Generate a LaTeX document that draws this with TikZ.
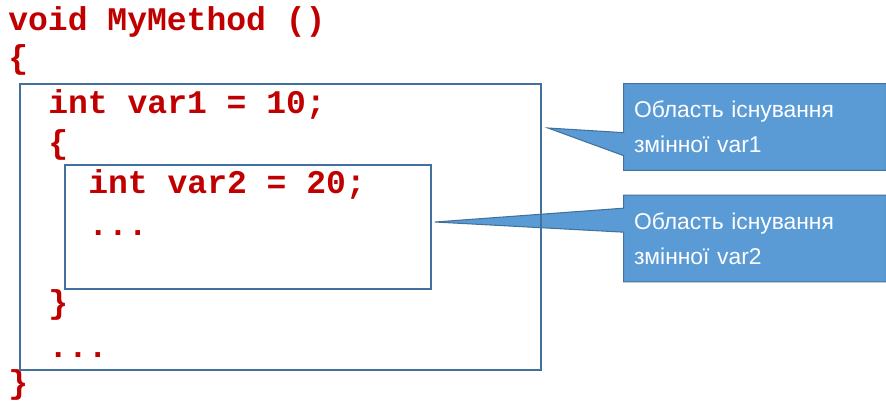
\documentclass[tikz,border=0pt]{standalone}
\usepackage{fontspec}
\setmainfont{Liberation Sans}
\setsansfont{Liberation Sans}
\setmonofont{Liberation Mono}
\usepackage{tikz}
\usetikzlibrary{calc,backgrounds}
\definecolor{codered}{HTML}{C00000}
\definecolor{frameblue}{HTML}{41719C}
\definecolor{callfill}{HTML}{5B9BD5}

\begin{document}
\begin{tikzpicture}[
          x=0.02cm, y=-0.02cm,
          code/.style={anchor=base west,inner sep=0pt,text=codered,
                       font=\fontsize{18.8}{20}\selectfont\ttfamily\bfseries},
          scopebox/.style={draw=frameblue,line width=0.6pt},
          callbox/.style={minimum width=5.24cm,minimum height=1.72cm,
                          text width=4.84cm,align=left,inner sep=0pt,text=white,
                          font=\fontsize{13}{19.8}\selectfont\sffamily},
          callshape/.style={fill=callfill,draw=frameblue,line width=0.6pt},
      ]
        \useasboundingbox (0,0) rectangle (886,403);

        \node[code] (head)  at (8,30)   {void MyMethod ()};
        \node[code] (open1) at (8,68)   {\{};
        \node[code] (decl1) at (48,113) {int var1 = 10;};
        \node[code] (open2) at (48,153) {\{};
        \node[code] (decl2) at (88,193) {int var2 = 20;};
        \node[code] (more2) at (88,235) {...};
        \node[code] (close2) at (48,313) {\}};
        \node[code] (more1) at (48,357) {...};
        \node[code] (close1) at (8,393) {\}};

        \draw[scopebox] (20,84) rectangle (541,370);
        \draw[scopebox] (65,165) rectangle (431,289);

        \coordinate (tip1) at (548,128);
        \coordinate (tip2) at (435,222);
        \node[callbox] (note1) at (755,127) {Область існування\\змінної var1};
        \node[callbox] (note2) at (755,238.5) {Область існування\\змінної var2};

        \begin{scope}[on background layer]
          \draw[callshape] (note1.north west) -- (note1.north east) -- (note1.south east)
            -- (note1.south west) -- ($(note1.north west)+(0,72)$) -- (tip1)
            -- ($(note1.north west)+(0,49)$) -- cycle;
          \draw[callshape] (note2.north west) -- (note2.north east) -- (note2.south east)
            -- (note2.south west) -- ($(note2.north west)+(0,37)$) -- (tip2)
            -- ($(note2.north west)+(0,13)$) -- cycle;
        \end{scope}
      \end{tikzpicture}
\end{document}
